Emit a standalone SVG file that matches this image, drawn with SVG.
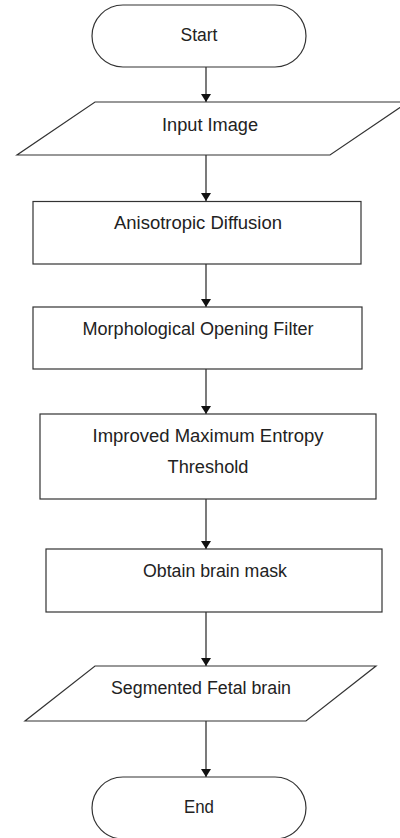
<svg xmlns="http://www.w3.org/2000/svg" width="400" height="838" viewBox="0 0 400 838">
<style>
.s{fill:#fff;stroke:#333;stroke-width:1.2}
.t{font-family:"Liberation Sans","Open Sans",sans-serif;font-size:17.5px;fill:#222;text-anchor:middle}
.c{stroke:#222;stroke-width:1.2;fill:none;marker-end:url(#ah)}
</style>
<defs>
<marker id="ah" markerWidth="8" markerHeight="10" refX="8" refY="5" orient="auto" markerUnits="userSpaceOnUse" viewBox="0 0 8 10">
<path d="M0,0 L8,5 L0,10 Z" fill="#111"/>
</marker>
</defs>
<rect width="400" height="838" fill="#fff"/>
<g id="connectors">
<line class="c" x1="206" y1="67" x2="206" y2="102"/>
<line class="c" x1="206" y1="155" x2="206" y2="201"/>
<line class="c" x1="206" y1="264" x2="206" y2="307"/>
<line class="c" x1="206" y1="369" x2="206" y2="414"/>
<line class="c" x1="206" y1="499" x2="206" y2="549"/>
<line class="c" x1="206" y1="612" x2="206" y2="666"/>
<line class="c" x1="206" y1="721" x2="206" y2="777"/>
</g>
<g id="start">
<rect class="s" x="92" y="5" width="214" height="62" rx="31" ry="31"/>
<text class="t" x="199" y="41" textLength="37" lengthAdjust="spacingAndGlyphs">Start</text>
</g>
<g id="input">
<polygon class="s" points="95,102 408,102 330,155 17,155"/>
<text class="t" x="210" y="131" textLength="96" lengthAdjust="spacingAndGlyphs">Input Image</text>
</g>
<g id="anisotropic">
<rect class="s" x="33" y="201.5" width="328" height="62.5"/>
<text class="t" x="198" y="229" textLength="168" lengthAdjust="spacingAndGlyphs">Anisotropic Diffusion</text>
</g>
<g id="morph">
<rect class="s" x="33" y="307" width="329" height="62"/>
<text class="t" x="198" y="335" textLength="231" lengthAdjust="spacingAndGlyphs">Morphological Opening Filter</text>
</g>
<g id="entropy">
<rect class="s" x="40" y="414" width="336" height="85"/>
<text class="t" x="208" y="442" textLength="231" lengthAdjust="spacingAndGlyphs">Improved Maximum Entropy</text>
<text class="t" x="208" y="473" textLength="81" lengthAdjust="spacingAndGlyphs">Threshold</text>
</g>
<g id="mask">
<rect class="s" x="46" y="549" width="336" height="63"/>
<text class="t" x="215" y="577" textLength="144" lengthAdjust="spacingAndGlyphs">Obtain brain mask</text>
</g>
<g id="segmented">
<polygon class="s" points="95,666 376,666 306,721 25,721"/>
<text class="t" x="201" y="694" textLength="180" lengthAdjust="spacingAndGlyphs">Segmented Fetal brain</text>
</g>
<g id="end">
<rect class="s" x="92" y="777" width="214" height="62" rx="31" ry="31"/>
<text class="t" x="199" y="813" textLength="30" lengthAdjust="spacingAndGlyphs">End</text>
</g>
</svg>
